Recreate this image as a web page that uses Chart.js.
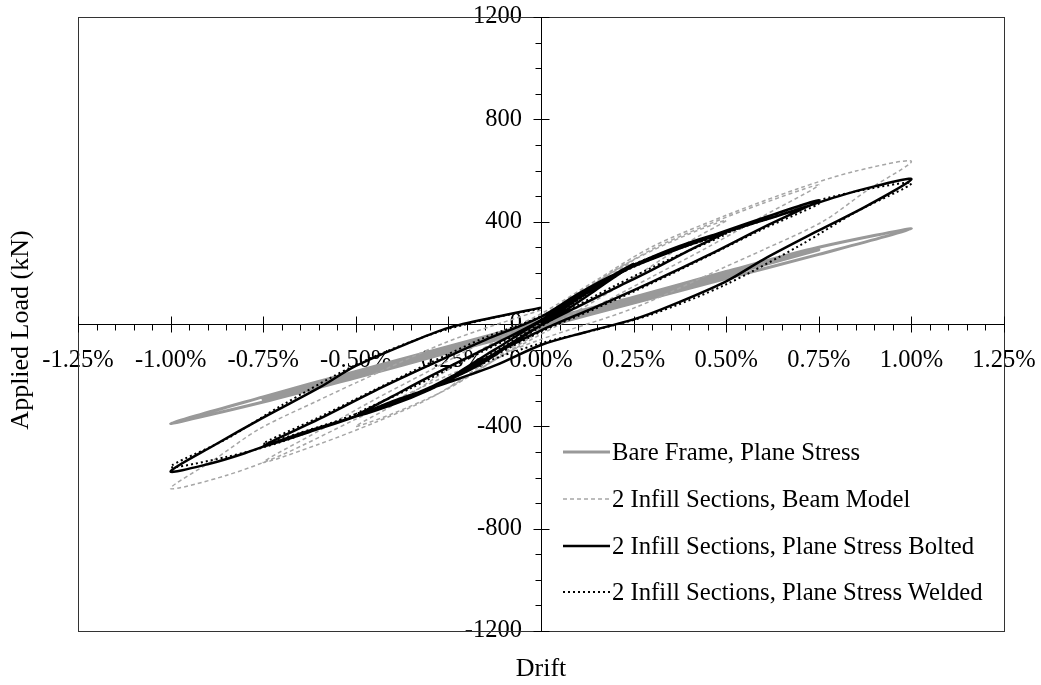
<!DOCTYPE html>
<html>
<head>
<meta charset="utf-8">
<title>Applied Load vs Drift</title>
<script src="https://cdn.jsdelivr.net/npm/chart.js@4.4.1/dist/chart.umd.min.js"></script>
<style>
    body { margin: 0; background: #fff; }
    #wrap { position: relative; width: 1041px; height: 685px; }
    #legend {
        position: absolute; left: 563px; top: 429px;
        font-family: "Liberation Serif", "Times New Roman", serif;
        font-size: 24.7px; color: #000;
    }
    .item { display: flex; align-items: center; height: 46.7px; white-space: nowrap; }
    .item svg { width: 47px; height: 8px; margin-right: 2px; }
</style>
</head>
<body>
<div id="wrap">
    <canvas id="driftChart"></canvas>
    <div id="legend"></div>
</div>
<script>
// Axis ticks (drift in %, load in kN)
const xTickValues = [-1.25, -1.0, -0.75, -0.5, -0.25, 0, 0.25, 0.5, 0.75, 1.0, 1.25];
const yTickValues = [-1200, -800, -400, 0, 400, 800, 1200];
const xMinorStep = 0.05;
const yMinorStep = 100;

// Bare frame, plane stress (cycles at 0.25, 0.5, 0.75, 1.0 %)
const bareDrift = [
    0, 0.12, 0.25, 0.12, 0, -0.12, -0.25, -0.12, 0,
    0.25, 0.5, 0.35, 0.15, 0, -0.25, -0.5, -0.35, -0.15, 0,
    0.25, 0.5, 0.75, 0.55, 0.3, 0, -0.25, -0.5, -0.75, -0.55, -0.3, 0,
    0.25, 0.5, 0.75, 1.0, 0.75, 0.5, 0.25, 0, -0.25, -0.5, -0.75, -1.0, -0.75, -0.5, -0.25, 0
];
const bareLoad = [
    0, 52, 100, 45, -5, -55, -100, -45, 5,
    100, 190, 130, 48, -8, -100, -192, -132, -50, 8,
    102, 195, 290, 210, 108, -12, -108, -200, -295, -215, -112, 12,
    105, 205, 300, 372, 272, 178, 82, -15, -112, -210, -305, -389, -285, -185, -88, 10
];

// 2 infill sections, beam model
const beamDrift = [
    0, 0.1, 0.2, 0.25, 0.15, 0.05, 0, -0.1, -0.2, -0.25, -0.15, -0.05, 0,
    0.1, 0.25, 0.4, 0.5, 0.4, 0.25, 0.1, 0, -0.1, -0.25, -0.4, -0.5, -0.4, -0.25, -0.1, 0,
    0.15, 0.3, 0.45, 0.6, 0.75, 0.6, 0.45, 0.3, 0.15, 0, -0.15, -0.3, -0.45, -0.6, -0.75, -0.6, -0.45, -0.3, -0.15, 0,
    0.15, 0.3, 0.5, 0.7, 0.85, 1.0, 0.88, 0.76, 0.6, 0.5, 0.25, 0, -0.25, -0.5, -0.7, -0.85, -1.0, -0.88, -0.76, -0.6, -0.5, -0.25, 0
];
const beamLoad = [
    0, 112, 212, 250, 150, 42, -8, -112, -210, -250, -150, -42, 8,
    115, 250, 352, 405, 322, 182, 52, -28, -118, -252, -350, -400, -318, -178, -48, 30,
    165, 292, 388, 472, 543, 422, 300, 185, 70, -40, -162, -290, -386, -470, -541, -418, -296, -182, -66, 40,
    172, 302, 425, 532, 598, 636, 522, 400, 290, 225, 62, -60, -200, -372, -512, -592, -643, -528, -410, -298, -230, -68, 55
];

// 2 infill sections, plane stress, bolted
const boltedDrift = [
    0, 0.05, 0.1, 0.15, 0.2, 0.25, 0.2, 0.15, 0.1, 0.05, 0, -0.05, -0.1, -0.15, -0.2, -0.25, -0.2, -0.15, -0.1, -0.05, 0,
    0.1, 0.2, 0.3, 0.4, 0.5, 0.4, 0.3, 0.2, 0.1, 0, -0.1, -0.2, -0.3, -0.4, -0.5, -0.4, -0.3, -0.2, -0.1, 0,
    0.1, 0.2, 0.3, 0.45, 0.6, 0.75, 0.6, 0.45, 0.3, 0.15, 0, -0.15, -0.3, -0.45, -0.6, -0.75, -0.6, -0.45, -0.3, -0.15, 0,
    0.1, 0.2, 0.35, 0.5, 0.65, 0.8, 0.9, 1.0, 0.88, 0.75, 0.6, 0.5, 0.35, 0.25, 0.12, 0,
    -0.12, -0.25, -0.4, -0.5, -0.65, -0.8, -0.9, -1.0, -0.88, -0.75, -0.6, -0.5, -0.35, -0.25, -0.12, 0
];
const boltedLoad = [
    0, 48, 100, 150, 195, 235, 185, 135, 85, 38, -5, -50, -98, -145, -185, -216, -168, -122, -78, -32, 12,
    100, 188, 262, 318, 360, 288, 212, 140, 68, -5, -92, -182, -256, -315, -360, -282, -205, -132, -60, 15,
    110, 195, 262, 340, 415, 483, 378, 268, 165, 68, -25, -135, -248, -335, -410, -477, -372, -262, -160, -62, 28,
    118, 195, 282, 360, 428, 498, 538, 566, 462, 366, 252, 167, 72, 18, -32, -82,
    -160, -228, -302, -360, -428, -505, -548, -576, -472, -366, -250, -164, -70, -15, 28, 64
];

// 2 infill sections, plane stress, welded
const weldedDrift = [
    0, 0.1, 0.2, 0.25, 0.15, 0.05, 0, -0.1, -0.2, -0.25, -0.15, -0.05, 0,
    0.1, 0.25, 0.4, 0.5, 0.35, 0.2, 0.05, 0, -0.1, -0.25, -0.4, -0.5, -0.35, -0.2, -0.05, 0,
    0.15, 0.3, 0.45, 0.6, 0.75, 0.6, 0.45, 0.3, 0.15, 0, -0.15, -0.3, -0.45, -0.6, -0.75, -0.6, -0.45, -0.3, -0.15, 0,
    0.15, 0.3, 0.5, 0.7, 0.85, 1.0, 0.85, 0.7, 0.5, 0.3, 0.15, 0,
    -0.15, -0.3, -0.5, -0.7, -0.85, -1.0, -0.85, -0.7, -0.5, -0.3, -0.15, 0
];
const weldedLoad = [
    0, 96, 190, 228, 142, 45, 0, -95, -182, -212, -130, -42, 8,
    98, 232, 312, 352, 255, 150, 35, -10, -95, -222, -308, -352, -250, -138, -30, 12,
    150, 255, 332, 405, 470, 372, 265, 160, 62, -30, -142, -250, -332, -402, -468, -365, -258, -152, -52, 30,
    150, 258, 355, 462, 518, 550, 438, 308, 155, 38, -22, -75,
    -150, -255, -352, -460, -520, -558, -450, -318, -160, -42, 18, 60
];

const seriesNames = [
    'Bare Frame, Plane Stress',
    '2 Infill Sections, Beam Model',
    '2 Infill Sections, Plane Stress Bolted',
    '2 Infill Sections, Plane Stress Welded'
];

function toPoints(drift, load) {
    return drift.map((d, i) => ({ x: d, y: load[i] }));
}

const fontFamily = '"Liberation Serif", "Times New Roman", serif';

// frame around the plot area
const plotBorder = {
    id: 'plotBorder',
    beforeDatasetsDraw(chart) {
        const { ctx, chartArea: a } = chart;
        ctx.save();
        ctx.strokeStyle = '#333';
        ctx.lineWidth = 1;
        ctx.strokeRect(Math.round(a.left) + 0.5, Math.round(a.top) + 0.5,
            Math.round(a.right - a.left), Math.round(a.bottom - a.top));
        ctx.restore();
    }
};

// major ticks cross the axis, minor ticks sit on the label side
const axisTicks = {
    id: 'axisTicks',
    beforeDatasetsDraw(chart) {
        const { ctx, scales: { x, y } } = chart;
        const x0 = Math.round(x.getPixelForValue(0)) + 0.5;
        const y0 = Math.round(y.getPixelForValue(0)) + 0.5;
        ctx.save();
        ctx.strokeStyle = '#000';
        ctx.lineWidth = 1;
        ctx.beginPath();
        const xMin = xTickValues[0];
        const nx = Math.round((xTickValues[xTickValues.length - 1] - xMin) / xMinorStep);
        for (let i = 0; i <= nx; i++) {
            const px = Math.round(x.getPixelForValue(xMin + i * xMinorStep)) + 0.5;
            if (i % 5 === 0) {
                ctx.moveTo(px, y0 - 8); ctx.lineTo(px, y0 + 8);
            } else {
                ctx.moveTo(px, y0); ctx.lineTo(px, y0 + 6);
            }
        }
        const yMin = yTickValues[0];
        const ny = Math.round((yTickValues[yTickValues.length - 1] - yMin) / yMinorStep);
        for (let i = 0; i <= ny; i++) {
            const py = Math.round(y.getPixelForValue(yMin + i * yMinorStep)) + 0.5;
            if (i % 4 === 0) {
                ctx.moveTo(x0 - 8, py); ctx.lineTo(x0 + 8, py);
            } else {
                ctx.moveTo(x0 - 6, py); ctx.lineTo(x0, py);
            }
        }
        ctx.stroke();
        ctx.restore();
    }
};

// axis titles sit at the outer edges, not next to the centred axes
const axisTitles = {
    id: 'axisTitles',
    afterDraw(chart) {
        const { ctx, chartArea: a } = chart;
        ctx.save();
        ctx.fillStyle = '#000';
        ctx.font = '26px ' + fontFamily;
        ctx.textAlign = 'center';
        ctx.textBaseline = 'middle';
        ctx.fillText('Drift', (a.left + a.right) / 2, 669);
        ctx.translate(21, (a.top + a.bottom) / 2 + 6);
        ctx.rotate(-Math.PI / 2);
        ctx.fillText('Applied Load (kN)', 0, 0);
        ctx.restore();
    }
};

function buildLegend(chart) {
    const box = document.getElementById('legend');
    box.innerHTML = '';
    chart.data.datasets.forEach(ds => {
        const dash = ds.borderDash && ds.borderDash.length ? ds.borderDash.join(',') : 'none';
        const row = document.createElement('div');
        row.className = 'item';
        row.innerHTML = `
            <svg viewBox="0 0 47 8"><line x1="0" y1="4" x2="47" y2="4"
                stroke="${ds.borderColor}" stroke-width="${ds.borderWidth}"
                stroke-dasharray="${dash}"/></svg>
            <span>${ds.label}</span>`;
        box.appendChild(row);
    });
}

function createDriftChart() {
    const ctx = document.getElementById('driftChart').getContext('2d');
    const axisFont = { family: fontFamily, size: 24.5 };
    // tick marks are drawn by axisTicks; the invisible tickLength only pushes the labels off the axis
    return new Chart(ctx, {
        type: 'scatter',
        data: {
            datasets: [{
                label: seriesNames[0],
                data: toPoints(bareDrift, bareLoad),
                borderColor: '#999999',
                borderWidth: 3,
                order: 4
            }, {
                label: seriesNames[1],
                data: toPoints(beamDrift, beamLoad),
                borderColor: '#a6a6a6',
                borderWidth: 1.5,
                borderDash: [4, 3],
                order: 3
            }, {
                label: seriesNames[2],
                data: toPoints(boltedDrift, boltedLoad),
                borderColor: '#000000',
                borderWidth: 2.5,
                order: 2
            }, {
                label: seriesNames[3],
                data: toPoints(weldedDrift, weldedLoad),
                borderColor: '#000000',
                borderWidth: 2,
                borderDash: [2, 3],
                order: 1
            }]
        },
        options: {
            responsive: true,
            maintainAspectRatio: false,
            animation: false,
            showLine: true,
            elements: {
                point: { radius: 0 },
                line: { tension: 0.3, fill: false }
            },
            layout: { padding: { left: 78, right: 37, top: 17, bottom: 54 } },
            plugins: {
                legend: { display: false },
                tooltip: { enabled: false }
            },
            scales: {
                x: {
                    type: 'linear',
                    position: 'center',
                    min: -1.25,
                    max: 1.25,
                    afterBuildTicks: scale => { scale.ticks = xTickValues.map(v => ({ value: v })); },
                    grid: { drawOnChartArea: false, drawTicks: true, tickLength: 22, tickColor: 'rgba(0,0,0,0)' },
                    border: { color: '#000', width: 1 },
                    ticks: {
                        font: axisFont,
                        color: '#000',
                        padding: 0,
                        autoSkip: false,
                        maxRotation: 0,
                        callback: v => v.toFixed(2) + '%'
                    }
                },
                y: {
                    type: 'linear',
                    position: 'center',
                    min: -1200,
                    max: 1200,
                    afterBuildTicks: scale => { scale.ticks = yTickValues.map(v => ({ value: v })); },
                    grid: { drawOnChartArea: false, drawTicks: true, tickLength: 19, tickColor: 'rgba(0,0,0,0)' },
                    border: { color: '#000', width: 1 },
                    ticks: {
                        font: axisFont,
                        color: '#000',
                        padding: 0,
                        autoSkip: false,
                        callback: v => String(v)
                    }
                }
            }
        },
        plugins: [plotBorder, axisTicks, axisTitles]
    });
}

document.addEventListener('DOMContentLoaded', () => {
    const chart = createDriftChart();
    buildLegend(chart);
});
</script>
</body>
</html>
